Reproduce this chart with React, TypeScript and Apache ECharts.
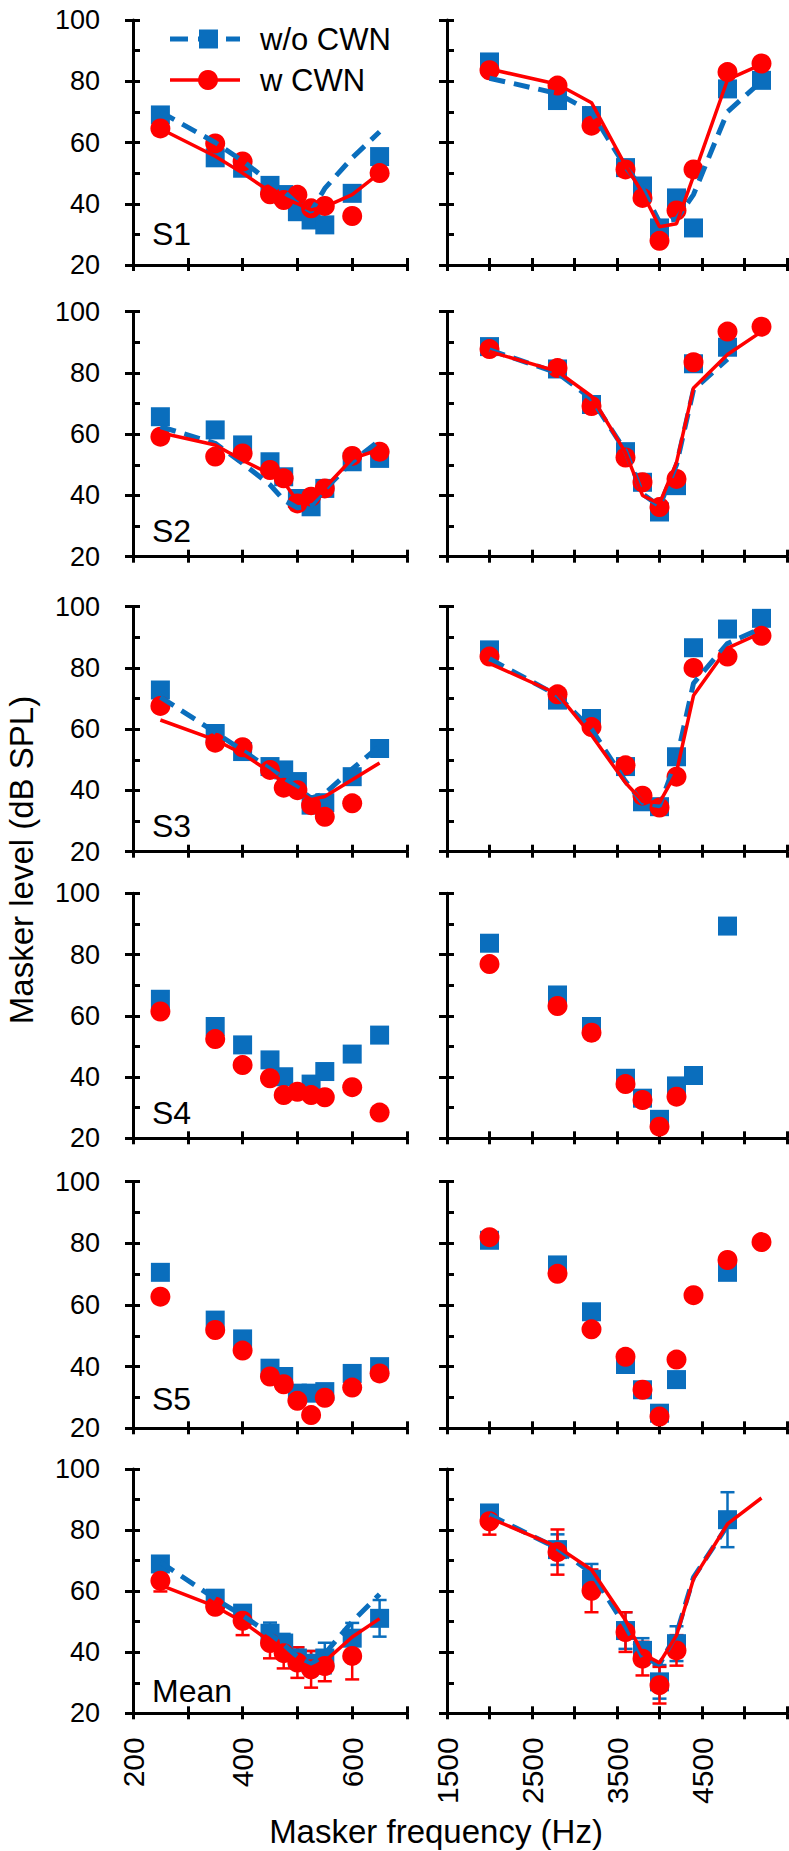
import React, { useEffect, useRef } from 'react';
import * as echarts from 'echarts';

// ---------------- data ----------------
const lowFreqs = [250, 350, 400, 450, 475, 500, 525, 550, 600, 650];
const highFreqs = [2000, 2800, 3200, 3600, 3800, 4000, 4200, 4400, 4800, 5200];
const lowXLabels = [200, 400, 600];
const highXLabels = [1500, 2500, 3500, 4500];
const panelNames = ['S1', 'S2', 'S3', 'S4', 'S5', 'Mean'];
const seriesNames = ['w/o CWN', 'w CWN'];

// S1
const s1LowWo = [69.0, 55.0, 51.6, 46.0, 43.0, 37.4, 34.7, 33.1, 43.4, 55.4];
const s1LowW = [64.6, 59.7, 53.8, 43.1, 41.2, 42.9, 38.5, 39.3, 36.0, 50.0];
const s1LowWoFit = [70.0, 60.0, 54.0, 47.0, 44.0, 40.0, 37.5, 45.0, 55.0, 63.5];
const s1LowWFit = [64.5, 55.5, 50.0, 44.0, 42.0, 40.0, 38.0, 39.0, 43.0, 50.0];
const s1HighWo = [86.3, 73.7, 68.8, 51.8, 45.8, 32.1, 41.9, 32.1, 77.5, 80.3];
const s1HighW = [83.6, 78.6, 65.5, 51.2, 41.9, 27.9, 37.8, 51.2, 83.0, 85.8];
const s1HighWoFit = [81.0, 76.0, 70.0, 52.0, 45.0, 34.0, 35.0, 43.0, 70.0, 80.0];
const s1HighWFit = [84.0, 79.0, 73.0, 52.5, 43.5, 32.5, 33.5, 49.0, 80.5, 85.5];

// S2
const s2LowWo = [65.7, 61.4, 56.5, 51.0, 46.1, 39.0, 36.3, 42.3, 51.0, 52.1];
const s2LowW = [59.2, 52.7, 53.7, 48.3, 45.6, 37.4, 39.6, 42.3, 52.9, 54.3];
const s2LowWoFit = [62.5, 57.0, 50.5, 43.5, 38.5, 36.0, 36.5, 42.0, 51.0, 58.0];
const s2LowWFit = [60.5, 56.5, 51.5, 47.0, 44.5, 38.0, 38.0, 42.5, 52.0, 55.0];
const s2HighWo = [88.6, 81.3, 69.7, 54.3, 44.3, 34.6, 43.2, 83.0, 88.4, null];
const s2HighW = [87.8, 81.6, 69.2, 52.4, 44.3, 36.2, 45.4, 83.5, 93.5, 95.1];
const s2HighWoFit = [87.5, 80.0, 71.5, 54.5, 40.5, 36.5, 50.0, 74.5, 84.5, null];
const s2HighWFit = [87.0, 80.5, 72.4, 54.0, 40.0, 37.3, 50.8, 75.1, 86.0, 93.5];

// S3
const s3LowWo = [72.8, 58.6, 52.7, 47.8, 46.7, 42.9, 35.2, 36.0, 44.5, 53.7];
const s3LowW = [67.6, 55.6, 54.1, 46.7, 40.9, 40.1, 35.2, 31.4, 35.8, null];
const s3LowWoFit = [70.5, 59.0, 53.0, 47.0, 44.0, 41.0, 37.5, 39.0, 47.0, 54.5];
const s3LowWFit = [63.0, 56.5, 52.0, 46.0, 42.5, 40.0, 37.0, 38.0, 43.5, 49.0];
const s3HighWo = [85.9, 69.5, 63.5, 47.8, 36.3, 34.7, 51.0, 86.6, 92.7, 96.2];
const s3HighW = [83.7, 71.4, 60.7, 48.2, 38.3, 34.4, 44.5, 80.0, 83.7, 90.5];
const s3HighWoFit = [83.0, 71.0, 60.0, 43.0, 36.0, 35.0, 50.0, 75.0, 88.0, 93.0];
const s3HighWFit = [81.5, 71.5, 58.0, 42.5, 36.5, 36.0, 46.0, 71.0, 86.5, 91.5];

// S4
const s4LowWo = [65.4, 56.5, 50.5, 45.6, 40.1, null, 37.7, 41.8, 47.5, 53.7];
const s4LowW = [61.4, 52.4, 43.9, 39.6, 34.1, 35.2, 34.1, 33.4, 36.7, 28.4];
const s4HighWo = [83.7, 66.8, 56.5, 39.6, 33.1, 26.2, 37.1, 40.5, 89.3, null];
const s4HighW = [76.9, 63.2, 54.5, 37.7, 32.5, 23.8, 33.6, null, null, null];

// S5
const s5LowWo = [70.6, 55.1, 49.0, 39.5, 36.8, 31.4, 31.4, 31.9, 37.8, 40.0];
const s5LowW = [62.7, 51.9, 45.2, 36.8, 34.3, 28.9, 24.3, 29.9, 33.2, 37.8];
const s5HighWo = [81.0, 73.0, 57.8, 40.7, 32.5, 24.9, 35.8, null, 70.6, null];
const s5HighW = [82.0, 70.1, 52.1, 43.2, 32.5, 23.8, 42.3, 63.2, 74.6, 80.4];

// Mean (with error bars)
const meanLowWo = [68.9, 57.7, 52.8, 46.2, 43.0, 38.1, 36.4, 38.1, 44.6, 51.1];
const meanLowWoErr = [2.0, 2.0, 2.0, 3.5, 3.0, 3.5, 4.0, 5.0, 5.0, 6.0];
const meanLowW = [63.4, 54.9, 50.3, 43.0, 39.7, 36.6, 34.4, 35.5, 38.8, null];
const meanLowWErr = [3.5, 2.0, 4.7, 5.0, 5.0, 5.0, 6.0, 5.0, 7.7, null];
const meanLowWoFit = [69.5, 57.5, 52.0, 46.0, 42.5, 38.5, 36.0, 39.5, 50.0, 59.0];
const meanLowWFit = [62.0, 55.0, 50.0, 43.5, 40.0, 37.0, 35.0, 37.0, 45.0, 51.0];
const meanHighWo = [85.6, 73.6, 63.9, 47.1, 40.6, 30.3, 42.8, null, 83.4, null];
const meanHighWoErr = [2.0, 5.0, 5.0, 6.0, 4.0, 5.5, 5.7, null, 9.0, null];
const meanHighW = [82.9, 72.8, 60.1, 46.6, 37.9, 29.2, 40.6, null, null, null];
const meanHighWErr = [4.4, 7.4, 7.0, 6.5, 5.5, 6.0, 5.0, null, null, null];
const meanHighWoFit = [85.0, 74.0, 66.0, 48.5, 38.5, 36.0, 46.0, 64.5, 81.5, null];
const meanHighWFit = [84.0, 74.5, 67.0, 50.5, 39.5, 36.5, 45.5, 64.0, 82.0, 90.5];

// ---------------- layout / style ----------------
const BLUE = '#0a6ebd';
const RED = '#ff0000';
const FONT = '"Liberation Sans", Arial, Helvetica, sans-serif';
const rowTops = [20, 311.7, 606.7, 893.3, 1181.7, 1469];
const rowBottoms = [265, 556.7, 851.7, 1138.3, 1428.3, 1713.3];
const colLeft = [133, 447];
const colWidth = [274, 340];
const labelY = [234, 531, 826, 1112.5, 1399, 1691];

type Panel = {
  row: number; col: number;
  wo: (number | null)[]; w: (number | null)[];
  woFit?: (number | null)[]; wFit?: (number | null)[];
  woErr?: (number | null)[]; wErr?: (number | null)[];
};

const panels: Panel[] = [
  { row: 0, col: 0, wo: s1LowWo, w: s1LowW, woFit: s1LowWoFit, wFit: s1LowWFit },
  { row: 0, col: 1, wo: s1HighWo, w: s1HighW, woFit: s1HighWoFit, wFit: s1HighWFit },
  { row: 1, col: 0, wo: s2LowWo, w: s2LowW, woFit: s2LowWoFit, wFit: s2LowWFit },
  { row: 1, col: 1, wo: s2HighWo, w: s2HighW, woFit: s2HighWoFit, wFit: s2HighWFit },
  { row: 2, col: 0, wo: s3LowWo, w: s3LowW, woFit: s3LowWoFit, wFit: s3LowWFit },
  { row: 2, col: 1, wo: s3HighWo, w: s3HighW, woFit: s3HighWoFit, wFit: s3HighWFit },
  { row: 3, col: 0, wo: s4LowWo, w: s4LowW },
  { row: 3, col: 1, wo: s4HighWo, w: s4HighW },
  { row: 4, col: 0, wo: s5LowWo, w: s5LowW },
  { row: 4, col: 1, wo: s5HighWo, w: s5HighW },
  { row: 5, col: 0, wo: meanLowWo, w: meanLowW, woFit: meanLowWoFit, wFit: meanLowWFit, woErr: meanLowWoErr, wErr: meanLowWErr },
  { row: 5, col: 1, wo: meanHighWo, w: meanHighW, woFit: meanHighWoFit, wFit: meanHighWFit, woErr: meanHighWoErr, wErr: meanHighWErr },
];

function pairs(freqs: number[], vals: (number | null)[]) {
  const out: number[][] = [];
  freqs.forEach((f, k) => { if (vals[k] != null) out.push([f, vals[k] as number]); });
  return out;
}
function triples(freqs: number[], vals: (number | null)[], errs: (number | null)[]) {
  const out: number[][] = [];
  freqs.forEach((f, k) => { if (vals[k] != null && errs[k] != null) out.push([f, vals[k] as number, errs[k] as number]); });
  return out;
}

function errorSeries(name: string, data: number[][], color: string, idx: number) {
  return {
    type: 'custom', name, xAxisIndex: idx, yAxisIndex: idx, data,
    encode: { x: 0, y: 1 }, silent: true,
    renderItem: (params: any, api: any) => {
      const x = api.value(0), y = api.value(1), e = api.value(2);
      const hi = api.coord([x, y + e]);
      const lo = api.coord([x, y - e]);
      const cw = 7;
      const st = { stroke: color, lineWidth: 2.5 };
      return {
        type: 'group',
        children: [
          { type: 'line', shape: { x1: hi[0], y1: hi[1], x2: lo[0], y2: lo[1] }, style: st },
          { type: 'line', shape: { x1: hi[0] - cw, y1: hi[1], x2: hi[0] + cw, y2: hi[1] }, style: st },
          { type: 'line', shape: { x1: lo[0] - cw, y1: lo[1], x2: lo[0] + cw, y2: lo[1] }, style: st },
        ],
      };
    },
  };
}

function buildOption() {
  const grid: any[] = [];
  const xMain: any[] = [];
  const yMain: any[] = [];
  const xInner: any[] = [];
  const yInner: any[] = [];
  const series: any[] = [];
  const n = panels.length;
  const axisLine = { show: true, onZero: false, lineStyle: { color: '#000', width: 3 } };

  panels.forEach((p, i) => {
    const low = p.col === 0;
    const freqs = low ? lowFreqs : highFreqs;
    const xLabels = low ? lowXLabels : highXLabels;
    const xRange = low ? { min: 200, max: 700, interval: 100 } : { min: 1500, max: 5500, interval: 500 };
    grid.push({
      left: colLeft[p.col], width: colWidth[p.col],
      top: rowTops[p.row], height: rowBottoms[p.row] - rowTops[p.row],
      containLabel: false, outerBoundsMode: 'none',
    });
    xMain.push({
      type: 'value', gridIndex: i, position: 'bottom', ...xRange,
      axisLine, splitLine: { show: false },
      axisTick: { show: true, inside: false, length: 6, lineStyle: { color: '#000', width: 3 } },
      axisLabel: {
        show: p.row === 5, rotate: 90, margin: 24, color: '#000', fontSize: 30, fontFamily: FONT,
        formatter: (v: number) => (xLabels.indexOf(v) >= 0 ? String(v) : ''),
      },
    });
    xInner.push({
      type: 'value', gridIndex: i, position: 'bottom', ...xRange,
      axisLine: { show: false, onZero: false }, splitLine: { show: false }, axisLabel: { show: false },
      axisTick: { show: true, inside: true, length: 7, lineStyle: { color: '#000', width: 3 } },
    });
    yMain.push({
      type: 'value', gridIndex: i, position: 'left', min: 20, max: 100, interval: 20,
      axisLine, splitLine: { show: false },
      axisTick: { show: true, inside: false, length: 8, lineStyle: { color: '#000', width: 3 } },
      axisLabel: { show: low, margin: 33, color: '#000', fontSize: 27, fontFamily: FONT },
    });
    yInner.push({
      type: 'value', gridIndex: i, position: 'left', min: 20, max: 100, interval: 10,
      axisLine: { show: false, onZero: false }, splitLine: { show: false }, axisLabel: { show: false },
      axisTick: { show: true, inside: true, length: 7, lineStyle: { color: '#000', width: 3 } },
    });

    if (p.woErr) series.push(errorSeries(seriesNames[0] + ' err', triples(freqs, p.wo, p.woErr), BLUE, i));
    if (p.woFit) series.push({
      type: 'line', name: seriesNames[0] + ' fit', xAxisIndex: i, yAxisIndex: i, data: pairs(freqs, p.woFit),
      symbol: 'none', showSymbol: false, silent: true,
      lineStyle: { color: BLUE, width: 5, type: [16, 9] },
    });
    series.push({
      type: 'scatter', name: seriesNames[0], xAxisIndex: i, yAxisIndex: i, data: pairs(freqs, p.wo),
      symbol: 'rect', symbolSize: 19, itemStyle: { color: BLUE, opacity: 1 },
    });
    if (p.wErr) series.push(errorSeries(seriesNames[1] + ' err', triples(freqs, p.w, p.wErr), RED, i));
    if (p.wFit) series.push({
      type: 'line', name: seriesNames[1] + ' fit', xAxisIndex: i, yAxisIndex: i, data: pairs(freqs, p.wFit),
      symbol: 'none', showSymbol: false, silent: true,
      lineStyle: { color: RED, width: 3.5, type: 'solid' },
    });
    series.push({
      type: 'scatter', name: seriesNames[1], xAxisIndex: i, yAxisIndex: i, data: pairs(freqs, p.w),
      symbol: 'circle', symbolSize: 20, itemStyle: { color: RED, opacity: 1 },
    });
  });

  const graphic: any[] = [];
  panelNames.forEach((name, r) => {
    graphic.push({
      type: 'text', x: 152, y: labelY[r], silent: true,
      style: { text: name, fill: '#000', font: `32px ${FONT}`, align: 'left', verticalAlign: 'middle' },
    });
  });
  // legend
  graphic.push(
    { type: 'line', silent: true, shape: { x1: 170, y1: 39, x2: 240, y2: 39 }, style: { stroke: BLUE, lineWidth: 5, lineDash: [18, 10] } },
    { type: 'rect', silent: true, shape: { x: 199, y: 29.5, width: 19, height: 19 }, style: { fill: BLUE } },
    { type: 'text', silent: true, x: 260, y: 39, style: { text: seriesNames[0], fill: '#000', font: `31px ${FONT}`, align: 'left', verticalAlign: 'middle' } },
    { type: 'line', silent: true, shape: { x1: 170, y1: 80, x2: 240, y2: 80 }, style: { stroke: RED, lineWidth: 3.5 } },
    { type: 'circle', silent: true, shape: { cx: 208, cy: 80, r: 10 }, style: { fill: RED } },
    { type: 'text', silent: true, x: 260, y: 80, style: { text: seriesNames[1], fill: '#000', font: `31px ${FONT}`, align: 'left', verticalAlign: 'middle' } },
  );
  // axis titles
  graphic.push(
    { type: 'text', silent: true, x: 21, y: 860, rotation: Math.PI / 2, style: { text: 'Masker level (dB SPL)', fill: '#000', font: `33px ${FONT}`, align: 'center', verticalAlign: 'middle' } },
    { type: 'text', silent: true, x: 436, y: 1831, style: { text: 'Masker frequency (Hz)', fill: '#000', font: `33px ${FONT}`, align: 'center', verticalAlign: 'middle' } },
  );

  return {
    animation: false,
    backgroundColor: '#fff',
    grid,
    xAxis: [...xMain, ...xInner],
    yAxis: [...yMain, ...yInner],
    series,
    graphic,
  };
}

export default function App() {
  const ref = useRef<HTMLDivElement>(null);
  useEffect(() => {
    const chart = echarts.init(ref.current as HTMLDivElement, null, { renderer: 'svg' });
    chart.setOption(buildOption() as any);
    return () => chart.dispose();
  }, []);
  return <div ref={ref} style={{ position: 'absolute', left: 0, top: 0, width: 789, height: 1851 }} />;
}
